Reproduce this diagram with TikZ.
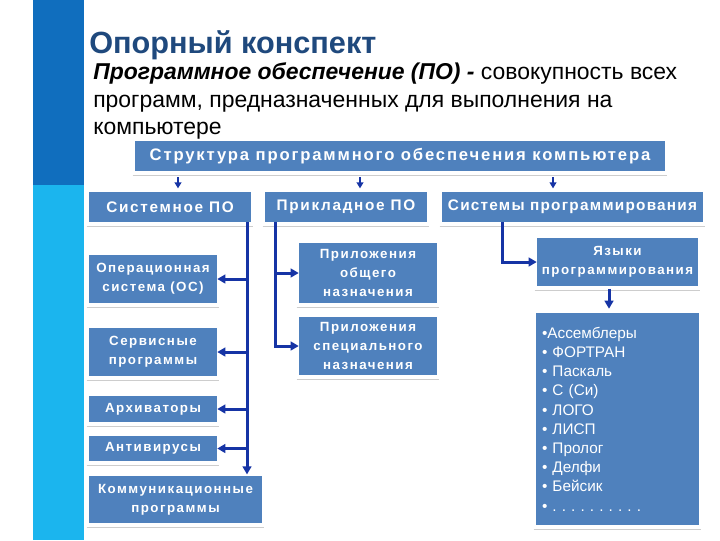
\documentclass[tikz,border=0pt]{standalone}
\usepackage{fontspec}
\setmainfont{Liberation Sans}
\newfontfamily\boxfont[LetterSpace=11]{Liberation Sans}
\usetikzlibrary{arrows.meta}
\definecolor{boxblue}{HTML}{4F81BD}
\definecolor{arrowblue}{RGB}{22,52,165}
\definecolor{titleblue}{HTML}{1F497D}
\definecolor{bardark}{RGB}{16,110,190}
\definecolor{barcyan}{RGB}{27,181,238}
\definecolor{shadowgray}{RGB}{205,205,205}
\tikzset{
  box/.style={fill=boxblue, text=white, align=center, inner sep=0pt, font=\boxfont\bfseries\fontsize{10}{14}\selectfont},
  colbox/.style={box, minimum height=22.5pt, font=\boxfont\bfseries\fontsize{11.5}{14}\selectfont},
  arr/.style={draw=arrowblue, line width=2.25pt, -{Triangle[length=6pt,width=6.5pt]}},
  smallarr/.style={draw=arrowblue, line width=1.5pt, -{Triangle[length=4.5pt,width=5pt]}},
  shadowline/.style={draw=shadowgray, line width=0.8pt},
  deftext/.style={anchor=base west, inner sep=0pt, font=\fontsize{17.2}{20}\selectfont}
}
\begin{document}
\frenchspacing
\begin{tikzpicture}[x=0.75pt,y=-0.75pt]
\useasboundingbox (0,0) rectangle (720,540);
\fill[white] (0,0) rectangle (720,540);
\fill[bardark] (33,0) rectangle (84,185);
\fill[barcyan] (33,185) rectangle (84,540);

\node[anchor=base west, inner sep=0pt, text=titleblue, font=\bfseries\fontsize{23}{26}\selectfont] (title) at (89,53) {Опорный конспект};
\node[deftext] (def1) at (93,79) {\textbf{\textit{Программное обеспечение (ПО) -}} совокупность всех};
\node[deftext] (def2) at (93,107) {программ, предназначенных для выполнения на};
\node[deftext] (def3) at (93,134) {компьютере};

\node[box, minimum width=397.5pt, minimum height=22.5pt, font=\boxfont\bfseries\fontsize{12.5}{14}\selectfont] (head) at (400,156) {Структура программного обеспечения компьютера};

\node[colbox, minimum width=121.5pt] (sys) at (170,207) {Системное ПО};
\node[colbox, minimum width=121.5pt] (app) at (346,207) {Прикладное ПО};
\node[colbox, minimum width=195.75pt, font=\bfseries\fontsize{11.5}{14}\selectfont\addfontfeature{LetterSpace=8}] (prog) at (572.5,207) {Системы программирования};

\node[box, minimum width=96pt, minimum height=36pt] (os) at (153,279) {Операционная\\система (ОС)};
\node[box, minimum width=96pt, minimum height=36pt] (serv) at (153,352) {Сервисные\\программы};
\node[box, minimum width=96pt, minimum height=19.5pt] (arch) at (153,409) {Архиваторы};
\node[box, minimum width=96pt, minimum height=18.75pt] (anti) at (153,448.5) {Антивирусы};
\node[box, minimum width=129.75pt, minimum height=35.25pt] (comm) at (175.5,499.5) {Коммуникационные\\программы};

\node[box, minimum width=103.5pt, minimum height=45pt] (gen) at (368,273) {Приложения\\общего\\назначения};
\node[box, minimum width=103.5pt, minimum height=43.5pt] (spec) at (368,346) {Приложения\\специального\\назначения};

\node[box, minimum width=120.75pt, minimum height=36pt] (lang) at (617.5,262) {Языки\\программирования};
\node[box, minimum width=120.75pt, minimum height=159pt, text width=113.25pt, inner xsep=4.5pt, align=left, font=\fontsize{11.5}{14.4}\selectfont] (list) at (617.5,419) {•Ассемблеры\\• ФОРТРАН\\• Паскаль\\• С (Си)\\• ЛОГО\\• ЛИСП\\• Пролог\\• Делфи\\• Бейсик\\• . . . . . . . . . .};

\foreach \n in {head,sys,app,prog,os,serv,arch,anti,comm,gen,spec,lang,list}
  \draw[shadowline] ([yshift=-3pt,xshift=-1.5pt]\n.south west) -- ([yshift=-3pt,xshift=1.5pt]\n.south east);

\coordinate (x1) at (178,0);
\coordinate (x2) at (360,0);
\coordinate (x3) at (553,0);
\draw[smallarr, shorten <=4.5pt, shorten >=2.5pt] (head.south -| x1) -- (sys.north -| x1);
\draw[smallarr, shorten <=4.5pt, shorten >=2.5pt] (head.south -| x2) -- (app.north -| x2);
\draw[smallarr, shorten <=4.5pt, shorten >=2.5pt] (head.south -| x3) -- (prog.north -| x3);

\coordinate (sv) at (247,0);
\draw[arr, shorten >=1pt] (sys.south -| sv) -- (comm.north -| sv);
\draw[arr] (os.east -| sv) -- (os.east);
\draw[arr] (serv.east -| sv) -- (serv.east);
\draw[arr] (arch.east -| sv) -- (arch.east);
\draw[arr] (anti.east -| sv) -- (anti.east);

\coordinate (av) at (275,0);
\draw[arr] (app.south -| av) |- (spec.west);
\draw[arr] (gen.west -| av) -- (gen.west);

\coordinate (pv) at (502,0);
\draw[arr] (prog.south -| pv) |- (lang.west);

\coordinate (lv) at (609,0);
\draw[arr, shorten <=2pt, shorten >=3pt] (lang.south -| lv) -- (list.north -| lv);
\end{tikzpicture}
\end{document}
